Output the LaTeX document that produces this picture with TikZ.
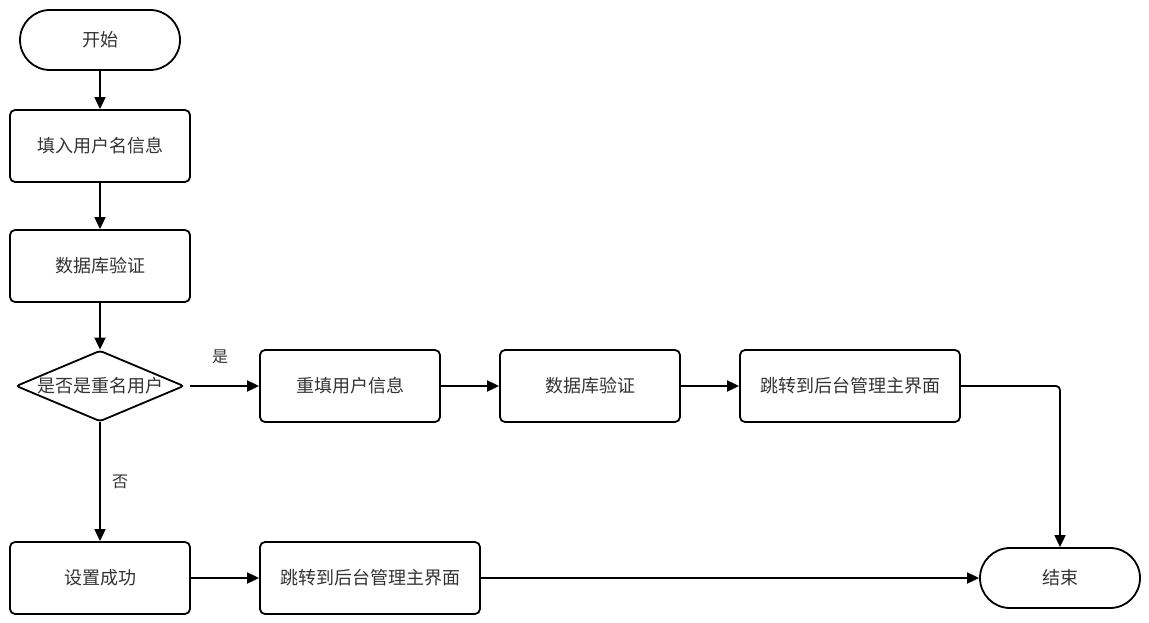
\documentclass[tikz,border=0pt]{standalone}
\usepackage{fontspec}
\setmainfont{Noto Sans CJK SC}
\usetikzlibrary{shapes.geometric,shapes.misc,arrows.meta}
\begin{document}
\begin{tikzpicture}[x=1pt,y=-1pt,
  every node/.style={font=\fontsize{18}{21}\selectfont, text=black!80},
  procbox/.style={draw=black, line width=1.8pt, rounded corners=5pt, minimum width=180pt, minimum height=72pt, inner sep=0pt},
  termbox/.style={draw=black, line width=1.8pt, rounded rectangle, minimum width=160pt, minimum height=60pt, inner sep=0pt},
  decbox/.style={draw=black, line width=1.8pt, rounded corners=3pt, diamond, aspect=2.36, minimum width=168pt, minimum height=71pt, inner sep=0pt},
  flow/.style={draw=black, line width=1.8pt, -{Triangle[length=12pt,width=11pt]}},
  lbl/.style={font=\fontsize{16}{19}\selectfont}
]
\useasboundingbox[fill=white] (0,0) rectangle (1149,623);
\node[termbox] (start) at (100,40) {开始};
\node[procbox] (fill) at (100,146) {填入用户名信息};
\node[procbox] (db1) at (100,266) {数据库验证};
\node[decbox] (dec) at (100,386) {};
\node at (100,386) {是否是重名用户};
\node[procbox] (refill) at (350,386) {重填用户信息};
\node[procbox] (db2) at (590,386) {数据库验证};
\node[procbox, minimum width=220pt] (jump1) at (850,386) {跳转到后台管理主界面};
\node[procbox] (ok) at (100,578) {设置成功};
\node[procbox, minimum width=220pt] (jump2) at (370,578) {跳转到后台管理主界面};
\node[termbox] (end) at (1060,578) {结束};
\coordinate (decR) at (190,386);
\node[lbl] at (220,357) {是};
\node[lbl] at (120,482) {否};
\draw[flow] (start) -- (fill);
\draw[flow] (fill) -- (db1);
\draw[flow] (db1) -- (dec);
\draw[flow] (decR) -- (refill);
\draw[flow] (refill) -- (db2);
\draw[flow] (db2) -- (jump1);
\draw[flow, rounded corners=4pt] (jump1.east) -| (end.north);
\draw[flow] (dec) -- (ok);
\draw[flow] (ok) -- (jump2);
\draw[flow] (jump2) -- (end);
\end{tikzpicture}
\end{document}
